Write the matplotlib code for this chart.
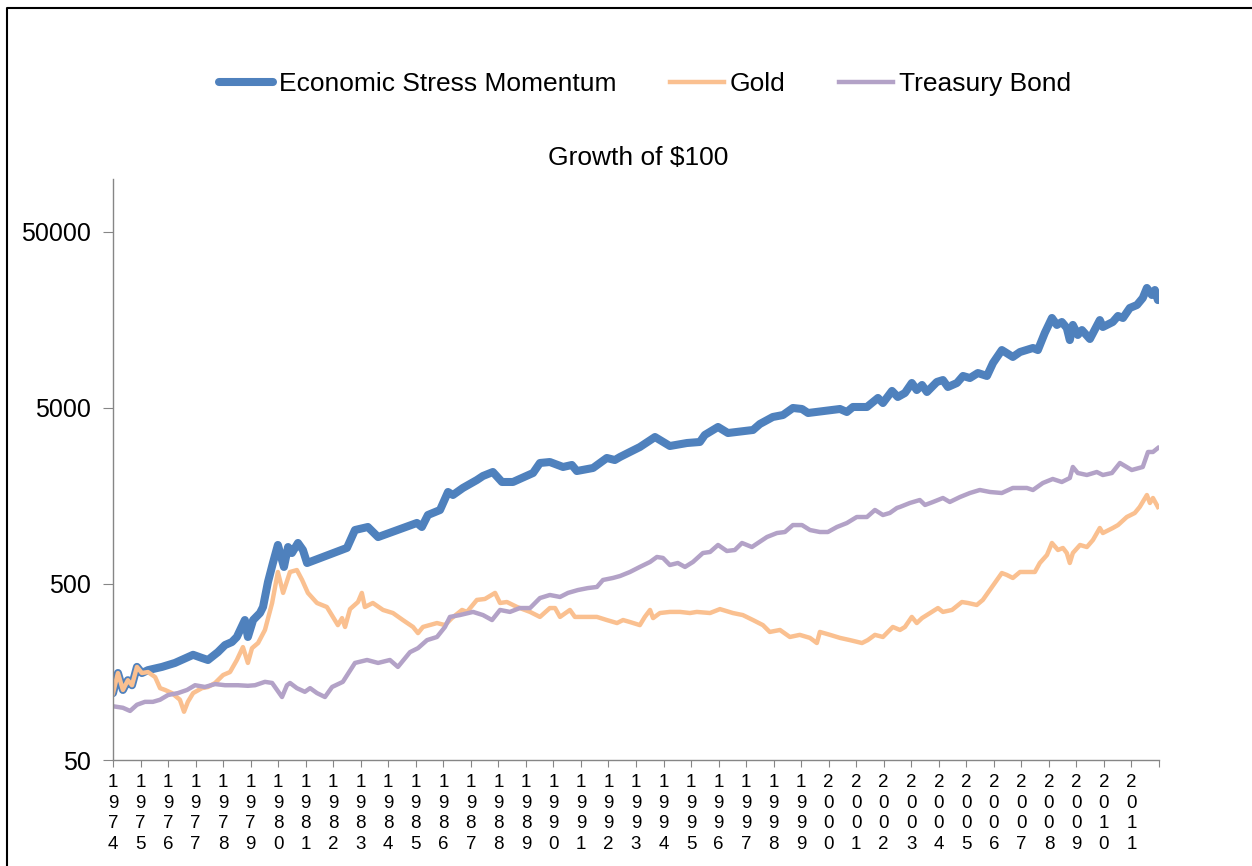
import matplotlib
matplotlib.use('Agg')
from matplotlib import pyplot as plt
from matplotlib.lines import Line2D

plt.rcParams['font.family'] = ['Liberation Sans', 'DejaVu Sans']

# values (decimal year, growth of $100)
esm_years = [1974.00, 1974.18, 1974.36, 1974.54, 1974.69, 1974.87, 1975.05, 1975.27, 1975.78, 1976.25,
             1976.91, 1977.23, 1977.45, 1977.81, 1978.07, 1978.32, 1978.50, 1978.79, 1978.90, 1979.09,
             1979.34, 1979.45, 1979.63, 1979.81, 1979.99, 1980.21, 1980.36, 1980.50, 1980.72, 1980.90,
             1981.05, 1982.50, 1982.79, 1983.26, 1983.63, 1985.04, 1985.22, 1985.44, 1985.88, 1986.17,
             1986.35, 1986.71, 1987.22, 1987.44, 1987.80, 1988.13, 1988.53, 1989.26, 1989.51, 1989.87,
             1990.35, 1990.67, 1990.85, 1991.44, 1991.94, 1992.23, 1992.42, 1992.78, 1993.14, 1993.69,
             1994.23, 1994.85, 1995.32, 1995.50, 1995.98, 1996.34, 1997.25, 1997.50, 1997.97, 1998.34,
             1998.70, 1999.03, 1999.25, 2000.41, 2000.66, 2000.88, 2001.39, 2001.79, 2001.97, 2002.30,
             2002.51, 2002.77, 2003.02, 2003.20, 2003.39, 2003.57, 2003.93, 2004.15, 2004.33, 2004.66,
             2004.88, 2005.13, 2005.42, 2005.75, 2005.97, 2006.29, 2006.69, 2006.95, 2007.42, 2007.60,
             2007.85, 2008.11, 2008.29, 2008.47, 2008.65, 2008.76, 2008.87, 2009.05, 2009.20, 2009.49,
             2009.85, 2009.96, 2010.32, 2010.51, 2010.69, 2010.94, 2011.20, 2011.41, 2011.56, 2011.74,
             2011.85, 2011.96]
esm_vals = [120, 156, 125, 142, 133, 169, 156, 162, 169, 178,
            198, 190, 185, 205, 225, 234, 250, 312, 250, 312,
            342, 370, 513, 658, 833, 625, 811, 750, 855, 780,
            658, 802, 1013, 1054, 924, 1111, 1054, 1233, 1316, 1666,
            1602, 1756, 1949, 2054, 2164, 1899, 1899, 2136, 2435, 2466,
            2311, 2372, 2192, 2281, 2600, 2531, 2634, 2812, 3000, 3420,
            3041, 3162, 3205, 3514, 3900, 3604, 3750, 4055, 4445, 4560,
            5000, 4935, 4683, 4935, 4745, 5066, 5066, 5700, 5336, 6250,
            5774, 6085, 6935, 6323, 6755, 6164, 7030, 7206, 6581, 6935,
            7600, 7400, 7900, 7600, 9010, 10668, 9750, 10400, 10960, 10668,
            13340, 16230, 14820, 15400, 14240, 12158, 14820, 13000, 13857, 12330,
            15793, 14430, 15400, 16660, 16230, 18500, 19240, 21080, 24030, 21930,
            23400, 20514]

gold_years = [1974.00, 1974.18, 1974.36, 1974.54, 1974.69, 1974.87, 1975.05, 1975.27, 1975.53, 1975.71,
              1975.89, 1976.14, 1976.43, 1976.58, 1976.72, 1976.91, 1977.23, 1977.45, 1977.71, 1978.00,
              1978.25, 1978.50, 1978.72, 1978.90, 1979.05, 1979.27, 1979.52, 1979.78, 1979.99, 1980.18,
              1980.43, 1980.68, 1980.87, 1981.08, 1981.41, 1981.77, 1981.99, 1982.17, 1982.32, 1982.43,
              1982.61, 1982.90, 1983.04, 1983.15, 1983.44, 1983.81, 1984.17, 1984.53, 1984.90, 1985.08,
              1985.26, 1985.77, 1986.06, 1986.31, 1986.68, 1986.86, 1987.22, 1987.51, 1987.88, 1988.06,
              1988.31, 1988.68, 1989.15, 1989.51, 1989.87, 1990.06, 1990.24, 1990.60, 1990.78, 1991.22,
              1991.58, 1991.94, 1992.31, 1992.53, 1992.78, 1993.14, 1993.32, 1993.51, 1993.62, 1993.87,
              1994.23, 1994.60, 1994.96, 1995.21, 1995.69, 1996.05, 1996.52, 1996.88, 1997.25, 1997.61,
              1997.86, 1998.23, 1998.59, 1998.95, 1999.32, 1999.57, 1999.68, 2000.05, 2000.41, 2000.77,
              2001.21, 2001.42, 2001.68, 2001.97, 2002.33, 2002.59, 2002.77, 2003.02, 2003.20, 2003.39,
              2003.68, 2003.97, 2004.15, 2004.48, 2004.84, 2005.06, 2005.38, 2005.60, 2005.78, 2006.04,
              2006.29, 2006.47, 2006.69, 2006.95, 2007.49, 2007.67, 2007.93, 2008.11, 2008.33, 2008.51,
              2008.65, 2008.76, 2008.87, 2009.13, 2009.38, 2009.60, 2009.85, 2009.96, 2010.32, 2010.51,
              2010.83, 2011.12, 2011.30, 2011.56, 2011.67, 2011.78, 2011.96]
gold_vals = [120, 156, 125, 142, 133, 169, 156, 158, 148, 128,
             125, 120, 110, 94, 107, 120, 128, 130, 137, 152,
             158, 185, 219, 178, 216, 231, 274, 390, 585, 445,
             585, 600, 527, 445, 390, 370, 325, 292, 320, 285,
             360, 395, 445, 370, 390, 356, 342, 312, 285, 263,
             285, 300, 292, 320, 356, 347, 406, 411, 445, 390,
             395, 370, 347, 325, 365, 365, 325, 356, 325, 325,
             325, 312, 300, 312, 304, 292, 325, 356, 320, 342,
             347, 347, 342, 347, 342, 360, 342, 333, 312, 292,
             267, 274, 250, 257, 247, 231, 267, 257, 247, 240,
             231, 240, 257, 250, 285, 274, 285, 325, 300, 320,
             342, 365, 347, 356, 395, 390, 380, 406, 445, 507,
             577, 563, 541, 585, 585, 658, 731, 855, 780, 801,
             750, 658, 750, 833, 811, 889, 1040, 974, 1040, 1081,
             1201, 1266, 1370, 1601, 1443, 1540, 1370]

bond_years = [1974.00, 1974.36, 1974.62, 1974.87, 1975.16, 1975.45, 1975.71, 1976.00, 1976.36, 1976.69,
              1976.98, 1977.34, 1977.71, 1978.07, 1978.54, 1978.90, 1979.16, 1979.52, 1979.78, 1979.96,
              1980.14, 1980.32, 1980.43, 1980.68, 1980.97, 1981.16, 1981.41, 1981.70, 1981.96, 1982.35,
              1982.79, 1983.23, 1983.63, 1984.06, 1984.35, 1984.79, 1985.08, 1985.41, 1985.77, 1986.06,
              1986.24, 1986.60, 1987.08, 1987.44, 1987.77, 1988.06, 1988.42, 1988.78, 1989.15, 1989.51,
              1989.87, 1990.24, 1990.53, 1990.89, 1991.25, 1991.58, 1991.80, 1992.16, 1992.42, 1992.78,
              1993.14, 1993.51, 1993.76, 1993.98, 1994.23, 1994.52, 1994.78, 1995.07, 1995.43, 1995.69,
              1995.98, 1996.30, 1996.59, 1996.85, 1997.21, 1997.43, 1997.76, 1998.12, 1998.41, 1998.70,
              1999.03, 1999.32, 1999.68, 1999.97, 2000.30, 2000.66, 2001.02, 2001.39, 2001.68, 2001.97,
              2002.22, 2002.48, 2002.59, 2002.95, 2003.31, 2003.50, 2003.79, 2004.15, 2004.40, 2004.77,
              2005.13, 2005.49, 2005.86, 2006.29, 2006.69, 2007.20, 2007.42, 2007.78, 2008.14, 2008.47,
              2008.76, 2008.87, 2009.05, 2009.38, 2009.74, 2009.96, 2010.29, 2010.58, 2011.01, 2011.41,
              2011.60, 2011.78, 2011.96]
bond_vals = [101, 99, 95, 103, 107, 107, 110, 117, 120, 125,
             133, 130, 135, 133, 133, 132, 133, 139, 137, 125,
             114, 133, 137, 128, 122, 128, 120, 114, 130, 139,
             178, 185, 178, 185, 169, 205, 216, 240, 250, 285,
             325, 333, 347, 333, 312, 356, 347, 365, 365, 416,
             433, 422, 445, 462, 474, 481, 527, 541, 555, 585,
             625, 667, 712, 703, 641, 658, 625, 667, 750, 760,
             833, 770, 780, 855, 811, 855, 925, 974, 987, 1081,
             1081, 1013, 987, 987, 1054, 1110, 1201, 1201, 1317, 1233,
             1266, 1352, 1370, 1443, 1500, 1406, 1462, 1540, 1462, 1560,
             1644, 1710, 1666, 1644, 1756, 1756, 1710, 1874, 1975, 1899,
             2001, 2311, 2136, 2081, 2164, 2081, 2136, 2435, 2221, 2311,
             2812, 2812, 2961]

tick_years = list(range(1974, 2013))
label_years = list(range(1974, 2012))
y_ticks = [50, 500, 5000, 50000]

fig = plt.figure(figsize=(12.52, 8.66), dpi=100)
ax = fig.add_axes([113 / 1252, 1 - 760 / 866, (1159 - 113) / 1252, (760 - 179) / 866])

ax.plot(esm_years, esm_vals, color='#4F81BD', lw=5.8, solid_capstyle='round', solid_joinstyle='round',
        label='Economic Stress Momentum')
ax.plot(gold_years, gold_vals, color='#FAC090', lw=3.2, solid_joinstyle='round', label='Gold')
ax.plot(bond_years, bond_vals, color='#B3A2C7', lw=3.2, solid_joinstyle='round', label='Treasury Bond')

ax.set_yscale('log')
ax.set_ylim(50, 100000)
ax.set_yticks(y_ticks)
ax.set_yticklabels([str(v) for v in y_ticks])
ax.yaxis.set_minor_locator(matplotlib.ticker.NullLocator())

ax.set_xlim(1974, 2012)
ax.set_xticks(tick_years)
ax.set_xticklabels(['\n'.join(str(y)) for y in label_years] + [''], linespacing=1.28)

for s in ['top', 'right']:
    ax.spines[s].set_visible(False)
for s in ['left', 'bottom']:
    ax.spines[s].set_color('#868686')
    ax.spines[s].set_linewidth(1.0)
ax.tick_params(axis='x', direction='out', length=5, color='#868686', labelsize=13.5, pad=5)
ax.tick_params(axis='y', direction='out', length=7, color='#868686', labelsize=18, pad=9)

fig.text(638 / 1252, 1 - 158 / 866, 'Growth of $100', ha='center', va='center', fontsize=19)

handles, labels = ax.get_legend_handles_labels()
fig.legend(handles, labels, loc='center', bbox_to_anchor=(645 / 1252, 1 - 84 / 866), ncol=3,
           frameon=False, fontsize=19, handlelength=2.05, handletextpad=0.2, columnspacing=2.05)

# outer frame (only top and left edges are visible in the crop)
fig.add_artist(Line2D([7 / 1252, 7 / 1252, 1.0], [0.0, 1 - 8 / 866, 1 - 8 / 866],
                      transform=fig.transFigure, color='black', lw=1.5))

fig.savefig('out.png', dpi=100)
